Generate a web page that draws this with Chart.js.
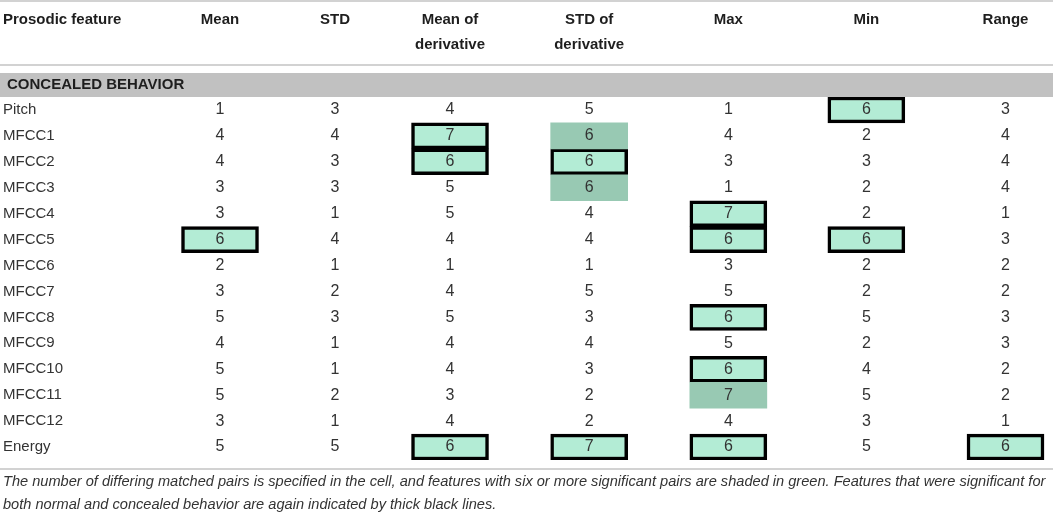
<!DOCTYPE html>
<html>
<head>
<meta charset="utf-8">
<script src="https://cdn.jsdelivr.net/npm/chart.js@4.4.1/dist/chart.umd.min.js"></script>
<style>
  html, body { margin: 0; padding: 0; background: #fff; }
  #wrap { width: 1053px; height: 521px; position: relative; }
</style>
</head>
<body>
<div id="wrap"><canvas id="tableChart"></canvas></div>
<script>
// table data
const features = ['Pitch', 'MFCC1', 'MFCC2', 'MFCC3', 'MFCC4', 'MFCC5', 'MFCC6',
    'MFCC7', 'MFCC8', 'MFCC9', 'MFCC10', 'MFCC11', 'MFCC12', 'Energy'];
const columnHeaders = [['Mean'], ['STD'], ['Mean of', 'derivative'], ['STD of', 'derivative'],
    ['Max'], ['Min'], ['Range']];
const meanVals      = [1, 4, 4, 3, 3, 6, 2, 3, 5, 4, 5, 5, 3, 5];
const stdVals       = [3, 4, 3, 3, 1, 4, 1, 2, 3, 1, 1, 2, 1, 5];
const meanDerivVals = [4, 7, 6, 5, 5, 4, 1, 4, 5, 4, 4, 3, 4, 6];
const stdDerivVals  = [5, 6, 6, 6, 4, 4, 1, 5, 3, 4, 3, 2, 2, 7];
const maxVals       = [1, 4, 3, 1, 7, 6, 3, 5, 6, 5, 6, 7, 4, 6];
const minVals       = [6, 2, 3, 2, 2, 6, 2, 2, 5, 2, 4, 5, 3, 5];
const rangeVals     = [3, 4, 4, 4, 1, 3, 2, 2, 3, 3, 2, 2, 1, 6];
// rows with thick black lines (significant for normal and concealed behaviour)
const boxedMean      = [5];
const boxedStd       = [];
const boxedMeanDeriv = [1, 2, 13];
const boxedStdDeriv  = [2, 13];
const boxedMax       = [4, 5, 8, 10, 13];
const boxedMin       = [0, 5];
const boxedRange     = [13];
const sectionTitle = 'CONCEALED BEHAVIOR';
const rowHeader = 'Prosodic feature';
const captionLines = [
    'The number of differing matched pairs is specified in the cell, and features with six or more significant pairs are shaded in green. Features that were significant for',
    'both normal and concealed behavior are again indicated by thick black lines.'
];
const threshold = 6;

// layout (column spacing in units, not data)
const colCenters = [0, 1, 2, 3.21, 4.42, 5.62, 6.83];

const columns = [meanVals, stdVals, meanDerivVals, stdDerivVals, maxVals, minVals, rangeVals];
const boxed = [boxedMean, boxedStd, boxedMeanDeriv, boxedStdDeriv, boxedMax, boxedMin, boxedRange];

const shadedCells = [];
const boxedCells = [];
columns.forEach(function (vals, c) {
    vals.forEach(function (v, r) {
        const cell = { x: colCenters[c], y: [r - 0.5, r + 0.5] };
        if (boxed[c].indexOf(r) >= 0) boxedCells.push(cell);
        else if (v >= threshold) shadedCells.push(cell);
    });
});

const FONT = '"Liberation Sans", Arial, sans-serif';

const tablePlugin = {
    id: 'tableText',
    beforeDatasetsDraw(chart) {
        const ctx = chart.ctx;
        const area = chart.chartArea;
        const w = chart.width;
        ctx.save();
        // rules
        ctx.fillStyle = '#d2d2d2';
        ctx.fillRect(0, 0, w, 2);
        ctx.fillRect(0, area.top - 33, w, 2);
        ctx.fillRect(0, area.bottom + 8, w, 2);
        // section band
        ctx.fillStyle = '#c1c1c1';
        ctx.fillRect(0, area.top - 24, w, 24);
        ctx.restore();
    },
    afterDatasetsDraw(chart) {
        const ctx = chart.ctx;
        const area = chart.chartArea;
        const xs = chart.scales.x;
        const ys = chart.scales.y;
        ctx.save();
        ctx.textBaseline = 'middle';

        // header
        ctx.fillStyle = '#1e1e1e';
        ctx.font = 'bold 15px ' + FONT;
        ctx.textAlign = 'left';
        ctx.fillText(rowHeader, 3, 20);
        ctx.textAlign = 'center';
        columnHeaders.forEach(function (lines, c) {
            const x = xs.getPixelForValue(colCenters[c]);
            lines.forEach(function (line, i) {
                ctx.fillText(line, x, 20 + i * 25);
            });
        });

        // section title
        ctx.textAlign = 'left';
        ctx.fillText(sectionTitle, 7, area.top - 12);

        // rows
        ctx.fillStyle = '#333';
        ctx.font = '15px ' + FONT;
        features.forEach(function (f, r) {
            ctx.fillText(f, 3, ys.getPixelForValue(r));
        });
        ctx.font = '16px ' + FONT;
        ctx.textAlign = 'center';
        columns.forEach(function (vals, c) {
            const x = xs.getPixelForValue(colCenters[c]);
            vals.forEach(function (v, r) {
                ctx.fillText(String(v), x, ys.getPixelForValue(r));
            });
        });

        // caption
        ctx.textAlign = 'left';
        ctx.font = 'italic 14.6px ' + FONT;
        captionLines.forEach(function (line, i) {
            ctx.fillText(line, 3, area.bottom + 22 + i * 23);
        });
        ctx.restore();
    }
};

document.addEventListener('DOMContentLoaded', function () {
    const ctx = document.getElementById('tableChart').getContext('2d');
    const tableChart = new Chart(ctx, {
        type: 'bar',
        data: {
            datasets: [{
                label: 'shaded',
                data: shadedCells,
                backgroundColor: '#98c9b3',
                borderWidth: 0,
                barThickness: 77,
                grouped: false
            }, {
                label: 'boxed',
                data: boxedCells,
                backgroundColor: '#b3ecd5',
                borderColor: '#000',
                borderWidth: 3.5,
                borderSkipped: false,
                barThickness: 77,
                grouped: false
            }]
        },
        options: {
            responsive: true,
            maintainAspectRatio: false,
            animation: false,
            layout: { padding: { top: 97, bottom: 61, left: 0, right: 0 } },
            plugins: {
                legend: { display: false },
                tooltip: { enabled: false }
            },
            scales: {
                x: { type: 'linear', offset: false, min: -1.913, max: 7.243, display: false },
                y: { type: 'linear', min: -0.5, max: 13.5, reverse: true, display: false }
            }
        },
        plugins: [tablePlugin]
    });
});
</script>
</body>
</html>
